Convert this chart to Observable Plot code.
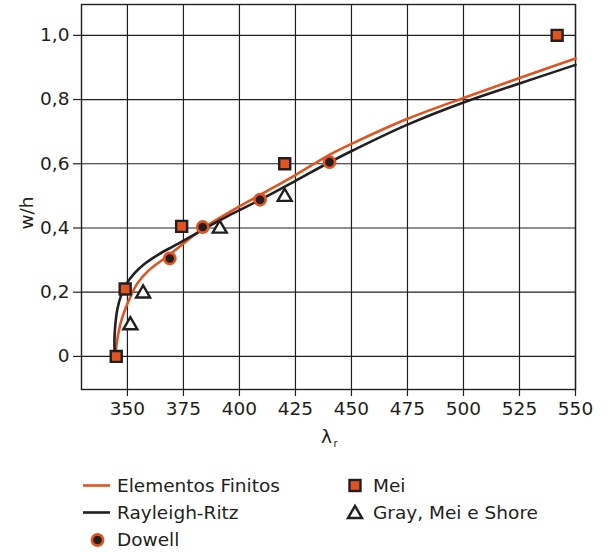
<!DOCTYPE html>
<html>
<head>
<meta charset="utf-8">
<script src="https://cdn.jsdelivr.net/npm/d3@7"></script>
<script src="https://cdn.jsdelivr.net/npm/@observablehq/plot@0.6"></script>
<style>
  body { margin: 0; background: #fff; font-family: "DejaVu Sans", sans-serif; color: #231f20; }
  #wrap { position: relative; width: 612px; height: 552px; }
  #legend { position: absolute; left: 0; top: 472px; width: 612px; font-size: 18.5px; }
  .item { position: absolute; height: 27px; display: flex; align-items: center; white-space: nowrap; }
  .item svg { flex: none; }
</style>
</head>
<body>
<div id="wrap">
  <div id="chart"></div>
  <div id="legend"></div>
</div>
<script>
// ---- data ----
const xTicks = [350, 375, 400, 425, 450, 475, 500, 525, 550];
const yTicks = [0, 0.2, 0.4, 0.6, 0.8, 1.0];
const yTickLabels = ["0", "0,2", "0,4", "0,6", "0,8", "1,0"];

// Elementos Finitos (orange curve)
const efLambda = [344.6, 345.4, 347.3, 350.6, 354.3, 359.5, 368.4, 376, 384, 395, 409, 425, 440, 451, 475, 500, 525, 550];
const efWh     = [0, 0.05, 0.112, 0.174, 0.226, 0.268, 0.315, 0.357, 0.400, 0.447, 0.502, 0.565, 0.627, 0.665, 0.74, 0.805, 0.867, 0.928];

// Rayleigh-Ritz (black curve)
const rrLambda = [344.4, 344.2, 344.6, 345.6, 347.2, 349.5, 353, 358, 364, 371, 378, 386, 395, 409, 425, 440, 451, 475, 500, 525, 550];
const rrWh     = [0, 0.05, 0.10, 0.15, 0.19, 0.225, 0.258, 0.29, 0.318, 0.345, 0.372, 0.404, 0.438, 0.487, 0.547, 0.604, 0.643, 0.722, 0.791, 0.85, 0.908];

// Dowell (circles)
const dowellLambda = [368.9, 383.6, 409.2, 440.2];
const dowellWh     = [0.305, 0.403, 0.488, 0.605];

// Mei (squares)
const meiLambda = [345, 349, 374.2, 420.2, 541.8];
const meiWh     = [0, 0.21, 0.405, 0.6, 1.0];

// Gray, Mei e Shore (triangles)
const gmsLambda = [351.3, 357, 391.2, 420.2];
const gmsWh     = [0.097, 0.196, 0.398, 0.497];

const legendLabels = ["Elementos Finitos", "Rayleigh-Ritz", "Dowell", "Mei", "Gray, Mei e Shore"];
const xLabel = "λ";
const xLabelSub = "r";
const yLabel = "w/h";

const orange = "#e1531f";
const black = "#231f20";
const font = "DejaVu Sans, sans-serif";

const toRows = (xs, ys) => xs.map((x, i) => ({x, y: ys[i]}));
const ef = toRows(efLambda, efWh);
const rr = toRows(rrLambda, rrWh);
const dowell = toRows(dowellLambda, dowellWh);
const mei = toRows(meiLambda, meiWh);
const gms = toRows(gmsLambda, gmsWh);

const plot = Plot.plot({
  width: 612,
  height: 462,
  marginLeft: 81,
  marginRight: 37,
  marginTop: 4,
  marginBottom: 73,
  x: {domain: [329.5, 550]},
  y: {domain: [-0.103, 1.096]},
  style: {fontFamily: font, fontSize: "18.5px", color: black, background: "#fff", overflow: "visible"},
  marks: [
    Plot.gridX(xTicks, {stroke: black, strokeOpacity: 1, strokeWidth: 1.2}),
    Plot.gridY(yTicks, {stroke: black, strokeOpacity: 1, strokeWidth: 1.2}),
    Plot.frame({stroke: black, strokeWidth: 1.4}),
    Plot.axisX(xTicks, {tickSize: 7, tickPadding: 5, label: null, tickFormat: d => String(d), stroke: black, strokeWidth: 1.2}),
    Plot.axisY(yTicks, {tickSize: 8, tickPadding: 4, label: null, tickFormat: d => yTickLabels[yTicks.indexOf(d)], stroke: black, strokeWidth: 1.2}),
    Plot.line(ef, {x: "x", y: "y", stroke: orange, strokeWidth: 2.6, curve: "catmull-rom"}),
    Plot.line(rr, {x: "x", y: "y", stroke: black, strokeWidth: 2.6, curve: "catmull-rom"}),
    Plot.dot(gms, {x: "x", y: "y", symbol: "triangle", r: 5.2, fill: "white", stroke: black, strokeWidth: 2.4}),
    Plot.dot(mei, {x: "x", y: "y", symbol: "square", r: 6.2, fill: orange, stroke: black, strokeWidth: 2.4}),
    Plot.dot(dowell, {x: "x", y: "y", r: 5.6, fill: black, stroke: orange, strokeWidth: 2.6}),
    Plot.text([yLabel], {frameAnchor: "left", dx: -54, dy: 16, rotate: -90, textAnchor: "middle", lineAnchor: "middle", fontSize: 18.5, fill: black}),
    Plot.text([xLabel], {frameAnchor: "bottom", dx: -2, dy: 48, textAnchor: "middle", lineAnchor: "middle", fontSize: 18.5, fill: black}),
    Plot.text([xLabelSub], {frameAnchor: "bottom", dx: 5, dy: 54, textAnchor: "start", lineAnchor: "middle", fontSize: 10, fill: black})
  ]
});
document.getElementById("chart").appendChild(plot);

// ---- legend (HTML below the SVG) ----
const legend = d3.select("#legend");
const items = [
  {label: legendLabels[0], kind: "line", color: orange, left: 82, row: 0},
  {label: legendLabels[1], kind: "line", color: black, left: 82, row: 1},
  {label: legendLabels[2], kind: "circle", left: 82, row: 2},
  {label: legendLabels[3], kind: "square", left: 345, row: 0},
  {label: legendLabels[4], kind: "triangle", left: 345, row: 1}
];
for (const it of items) {
  const div = legend.append("div").attr("class", "item")
    .style("left", it.left + "px").style("top", (it.row * 27) + "px");
  const w = it.kind === "line" || it.kind === "circle" ? 29 : 20;
  const svg = div.append("svg").attr("width", w).attr("height", 27);
  if (it.kind === "line") {
    svg.append("line").attr("x1", 1).attr("x2", 28).attr("y1", 13.5).attr("y2", 13.5)
      .attr("stroke", it.color).attr("stroke-width", 2.6);
  } else if (it.kind === "circle") {
    svg.append("circle").attr("cx", 15.5).attr("cy", 14).attr("r", 5.6)
      .attr("fill", black).attr("stroke", orange).attr("stroke-width", 2.6);
  } else if (it.kind === "square") {
    svg.append("rect").attr("x", 4.5).attr("y", 8).attr("width", 11).attr("height", 11)
      .attr("fill", orange).attr("stroke", black).attr("stroke-width", 2.4);
  } else {
    svg.append("path").attr("d", d3.symbol(d3.symbolTriangle, Math.PI * 5.2 * 5.2)())
      .attr("transform", "translate(10,15)")
      .attr("fill", "white").attr("stroke", black).attr("stroke-width", 2.4);
  }
  div.append("span").text(it.label).style("margin-left", it.kind === "line" || it.kind === "circle" ? "6px" : "8px");
}
</script>
</body>
</html>
